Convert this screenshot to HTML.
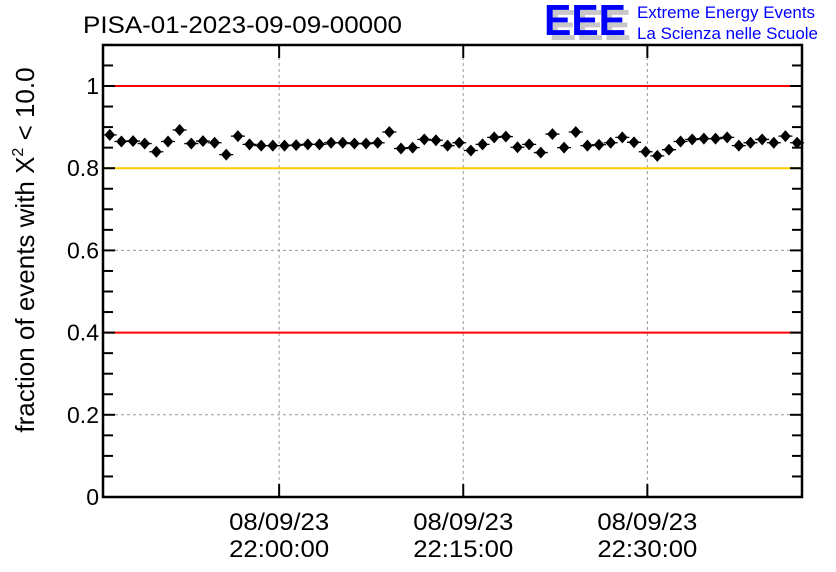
<!DOCTYPE html>
<html><head><meta charset="utf-8"><style>
body{margin:0;background:#fff}
svg{display:block;font-family:"Liberation Sans",sans-serif}
</style></head><body>
<svg id="chart" width="836" height="572" viewBox="0 0 836 572">
<text x="83" y="33" font-size="24" textLength="319" lengthAdjust="spacingAndGlyphs">PISA-01-2023-09-09-00000</text>
<g>
<text x="549" y="40" font-size="44" font-weight="bold" fill="#c8c8c8" textLength="82" lengthAdjust="spacingAndGlyphs">EEE</text>
<text x="544" y="35" font-size="44" font-weight="bold" fill="#0000ff" textLength="82" lengthAdjust="spacingAndGlyphs">EEE</text>
<text x="637" y="18" font-size="16.5" fill="#0000ff" textLength="178" lengthAdjust="spacingAndGlyphs">Extreme Energy Events</text>
<text x="637" y="39" font-size="16.5" fill="#0000ff" textLength="181" lengthAdjust="spacingAndGlyphs">La Scienza nelle Scuole</text>
</g>
<text transform="translate(34,250) rotate(-90)" text-anchor="middle" font-size="26">fraction of events with X<tspan font-size="16" dy="-11">2</tspan><tspan dy="11"> &lt; 10.0</tspan></text>
<g id="plot"></g>
</svg>
<script>
const yTickValues=[0,0.2,0.4,0.6,0.8,1];
const yTickLabels=["0","0.2","0.4","0.6","0.8","1"];
const xTickMinutes=[0,15,30];
const xTickDates=["08/09/23","08/09/23","08/09/23"];
const xTickTimes=["22:00:00","22:15:00","22:30:00"];
const refLinesRed=[1,0.4];
const refLinesYellow=[0.8];
const fractions=[0.881,0.865,0.866,0.86,0.84,0.865,0.893,0.86,0.866,0.862,0.833,0.878,0.858,0.855,0.855,0.855,0.856,0.858,0.858,0.862,0.862,0.86,0.86,0.862,0.888,0.848,0.85,0.87,0.868,0.855,0.862,0.843,0.858,0.875,0.877,0.851,0.858,0.838,0.883,0.85,0.888,0.855,0.857,0.862,0.875,0.863,0.84,0.83,0.845,0.865,0.87,0.872,0.872,0.875,0.855,0.862,0.87,0.862,0.878,0.862];
const firstMinute=-13.8, lastMinute=42.2;

const L=103,R=802,T=45,B=497;
const xMin=-14.35,xMax=42.6;
const X=m=>L+(m-xMin)/(xMax-xMin)*(R-L);
const Y=v=>B-v*411;
const NS="http://www.w3.org/2000/svg";
const g=document.getElementById('plot');
function el(t,a){const e=document.createElementNS(NS,t);for(const k in a)e.setAttribute(k,a[k]);g.appendChild(e);return e;}
yTickValues.forEach(v=>{if(v>0&&v<1){const e=el('line',{x1:L,x2:R,y1:Y(v),y2:Y(v),stroke:'#999','stroke-dasharray':'3,3','stroke-width':1});

}});
xTickMinutes.forEach(m=>{const e=el('line',{x1:X(m),x2:X(m),y1:T,y2:B,stroke:'#999','stroke-dasharray':'3,3','stroke-width':1});

});
refLinesRed.forEach(v=>{const e=el('line',{x1:L,x2:R,y1:Y(v),y2:Y(v),stroke:'#ff0000','stroke-width':2});

});
refLinesYellow.forEach(v=>{const e=el('line',{x1:L,x2:R,y1:Y(v),y2:Y(v),stroke:'#ffcc00','stroke-width':2});

});
const fr=el('path',{d:`M${L},${T}H${R}V${B}H${L}Z`,fill:'none',stroke:'#000','stroke-width':2.5});


for(let i=0;i<=22;i++){const v=i*0.05;const len=(i%4===0)?12:10;
const t1=el('line',{x1:L,x2:L+len,y1:Y(v),y2:Y(v),stroke:'#000','stroke-width':2});


const t2=el('line',{x1:R-len,x2:R,y1:Y(v),y2:Y(v),stroke:'#000','stroke-width':2});

}
yTickValues.forEach((v,i)=>{const t=el('text',{x:L-4,y:Y(v)+8,'text-anchor':'end','font-size':23});t.textContent=yTickLabels[i];

});
xTickMinutes.forEach((m,i)=>{
const a=el('line',{x1:X(m),x2:X(m),y1:B-13,y2:B,stroke:'#000','stroke-width':2});


const b=el('line',{x1:X(m),x2:X(m),y1:T,y2:T+13,stroke:'#000','stroke-width':2});


const t=el('text',{x:X(m),y:530,'text-anchor':'middle','font-size':24,textLength:100,lengthAdjust:'spacingAndGlyphs'});t.textContent=xTickDates[i];


const u=el('text',{x:X(m),y:557,'text-anchor':'middle','font-size':24,textLength:100,lengthAdjust:'spacingAndGlyphs'});u.textContent=xTickTimes[i];

});
const step=(lastMinute-firstMinute)/(fractions.length-1);
fractions.forEach((v,i)=>{const x=X(firstMinute+i*step),y=Y(v);
const p=el('path',{d:`M${x},${y-5}L${x+4.5},${y}L${x},${y+5}L${x-4.5},${y}Z M${x-7},${y}H${x+7}`,fill:'#000',stroke:'#000','stroke-width':1.3});

});
</script>
</body></html>
